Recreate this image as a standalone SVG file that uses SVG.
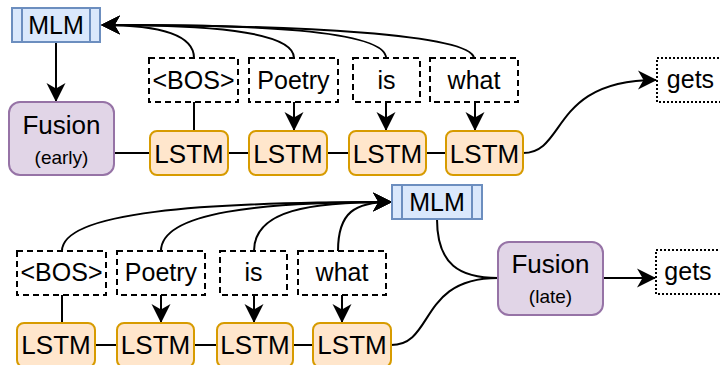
<svg xmlns="http://www.w3.org/2000/svg" width="720" height="365" viewBox="0 0 720 365">
<defs>
<style>
text{font-family:"Liberation Sans",Arial,Helvetica,sans-serif;fill:#000;text-anchor:middle}
.big{font-size:25px}
.ls{font-size:26px}
.fus{font-size:26px}
.sm{font-size:19px}
.mlm{fill:#dae8fc;stroke:#6c8ebf;stroke-width:2}
.fusion{fill:#e1d5e7;stroke:#9673a6;stroke-width:2}
.lstm{fill:#ffe6cc;stroke:#d79b00;stroke-width:2}
.tok{fill:#fff;stroke:#000;stroke-width:2;stroke-dasharray:6 4}
.out{fill:#fff;stroke:#000;stroke-width:2;stroke-dasharray:2 2}
.edge{fill:none;stroke:#000;stroke-width:2}
.arr{marker-end:url(#ah)}
</style>
<marker id="ah" markerUnits="userSpaceOnUse" markerWidth="20" markerHeight="20" viewBox="0 0 20 20" refX="18" refY="10" orient="auto">
<path d="M0,0.5 L19,10 L0,19.5 L5.5,10 Z" fill="#000"/>
</marker>
</defs>

<g id="connectors">
<!-- top -->
<path class="edge arr" d="M56,42 L56,101"/>
<path class="edge" d="M114,153 L150,153"/>
<path class="edge" d="M228,153 L249,153"/>
<path class="edge" d="M327,153 L349,153"/>
<path class="edge" d="M426,153 L446,153"/>
<path class="edge" d="M194,102 L194,131"/>
<path class="edge arr" d="M294,102 L294,130"/>
<path class="edge arr" d="M386,102 L386,130"/>
<path class="edge arr" d="M475,102 L475,130"/>
<path class="edge arr" d="M194,58 C194,32 150,25 102,25"/>
<path class="edge arr" d="M294,58 C294,30 200,25 102,25"/>
<path class="edge arr" d="M386,58 C386,30 250,24 102,25"/>
<path class="edge arr" d="M474,58 C470,34 300,25 102,25"/>
<path class="edge arr" d="M523,153 C567,153 550,80 656,80"/>
<!-- bottom -->
<path class="edge" d="M95,345 L117,345"/>
<path class="edge" d="M194,345 L217,345"/>
<path class="edge" d="M293,345 L313,345"/>
<path class="edge" d="M62,295 L62,323"/>
<path class="edge arr" d="M161,295 L161,322"/>
<path class="edge arr" d="M254,295 L254,322"/>
<path class="edge arr" d="M342,295 L342,322"/>
<path class="edge arr" d="M62,251 C62,212 200,202 391,202"/>
<path class="edge arr" d="M161,251 C161,212 260,202 391,202"/>
<path class="edge arr" d="M254,251 C254,210 310,202 391,202"/>
<path class="edge arr" d="M338,251 C338,212 355,202 391,202"/>
<path class="edge" d="M437,219 C437,265 460,278 498,278"/>
<path class="edge" d="M391,345 C435,345 418,278 498,278"/>
<path class="edge arr" d="M603,278 L655,278"/>
</g>

<g id="mlm-top">
<rect class="mlm" x="12" y="8" width="88" height="34"/>
<line class="mlm" x1="22" y1="8" x2="22" y2="42"/>
<line class="mlm" x1="90" y1="8" x2="90" y2="42"/>
<text class="big" x="56" y="33.5">MLM</text>
</g>
<g id="fusion-early">
<rect class="fusion" x="9" y="102" width="105" height="73" rx="11"/>
<text class="fus" x="61.5" y="133.5">Fusion</text>
<text class="sm" x="61.5" y="164">(early)</text>
</g>
<g id="tok-top-bos"><rect class="tok" x="149" y="58" width="89" height="44"/><text class="big" x="193.5" y="88.5">&lt;BOS&gt;</text></g>
<g id="tok-top-poetry"><rect class="tok" x="249" y="58" width="89" height="44"/><text class="big" x="293.5" y="88.5">Poetry</text></g>
<g id="tok-top-is"><rect class="tok" x="353" y="58" width="67" height="44"/><text class="big" x="386.5" y="88.5">is</text></g>
<g id="tok-top-what"><rect class="tok" x="430" y="58" width="88" height="44"/><text class="big" x="474" y="88.5">what</text></g>
<g id="lstm-top-1"><rect class="lstm" x="150" y="131" width="78" height="44" rx="7"/><text class="ls" x="189" y="162.5">LSTM</text></g>
<g id="lstm-top-2"><rect class="lstm" x="249" y="131" width="78" height="44" rx="7"/><text class="ls" x="288" y="162.5">LSTM</text></g>
<g id="lstm-top-3"><rect class="lstm" x="349" y="131" width="77" height="44" rx="7"/><text class="ls" x="387.5" y="162.5">LSTM</text></g>
<g id="lstm-top-4"><rect class="lstm" x="446" y="131" width="77" height="44" rx="7"/><text class="ls" x="484.5" y="162.5">LSTM</text></g>
<g id="gets-top"><rect class="out" x="657" y="58" width="70" height="44"/><text class="big" x="690.5" y="88">gets</text></g>

<g id="mlm-bottom">
<rect class="mlm" x="392" y="185" width="90" height="34"/>
<line class="mlm" x1="402" y1="185" x2="402" y2="219"/>
<line class="mlm" x1="472" y1="185" x2="472" y2="219"/>
<text class="big" x="437" y="210.5">MLM</text>
</g>
<g id="fusion-late">
<rect class="fusion" x="498" y="242" width="105" height="73" rx="11"/>
<text class="fus" x="550.5" y="272.5">Fusion</text>
<text class="sm" x="550.5" y="303">(late)</text>
</g>
<g id="tok-bot-bos"><rect class="tok" x="17" y="251" width="89" height="44"/><text class="big" x="61.5" y="281">&lt;BOS&gt;</text></g>
<g id="tok-bot-poetry"><rect class="tok" x="117" y="251" width="88" height="44"/><text class="big" x="161" y="281">Poetry</text></g>
<g id="tok-bot-is"><rect class="tok" x="220" y="251" width="67" height="44"/><text class="big" x="253.5" y="281">is</text></g>
<g id="tok-bot-what"><rect class="tok" x="298" y="251" width="88" height="44"/><text class="big" x="342" y="281">what</text></g>
<g id="lstm-bot-1"><rect class="lstm" x="17" y="323" width="78" height="44" rx="7"/><text class="ls" x="56" y="353.5">LSTM</text></g>
<g id="lstm-bot-2"><rect class="lstm" x="117" y="323" width="77" height="44" rx="7"/><text class="ls" x="155.5" y="353.5">LSTM</text></g>
<g id="lstm-bot-3"><rect class="lstm" x="217" y="323" width="76" height="44" rx="7"/><text class="ls" x="255" y="353.5">LSTM</text></g>
<g id="lstm-bot-4"><rect class="lstm" x="313" y="323" width="78" height="44" rx="7"/><text class="ls" x="352" y="353.5">LSTM</text></g>
<g id="gets-bottom"><rect class="out" x="656" y="250" width="70" height="44"/><text class="big" x="688" y="280">gets</text></g>
</svg>
